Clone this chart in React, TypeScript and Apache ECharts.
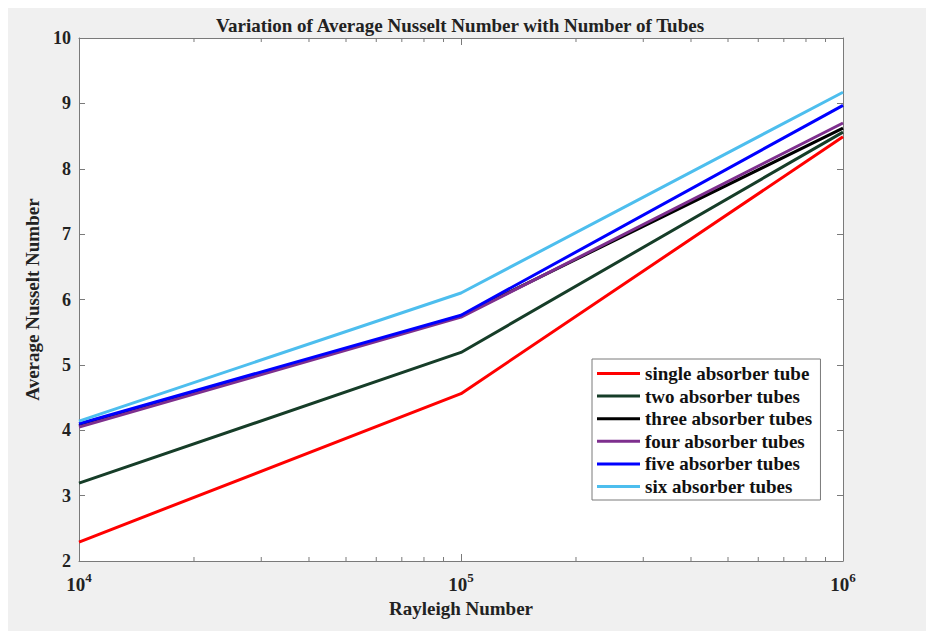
import React, { useEffect, useRef } from "react";
import * as echarts from "echarts";

const rayleigh = [1e4, 1e5, 1e6];
const seriesNames = [
  "single absorber tube",
  "two absorber tubes",
  "three absorber tubes",
  "four absorber tubes",
  "five absorber tubes",
  "six absorber tubes",
];
const singleTube = [2.29, 4.56, 8.49];
const twoTubes = [3.19, 5.19, 8.56];
const threeTubes = [4.07, 5.75, 8.62];
const fourTubes = [4.05, 5.73, 8.7];
const fiveTubes = [4.1, 5.76, 8.97];
const sixTubes = [4.14, 6.1, 9.17];
const seriesColors = ["#ff0000", "#163d28", "#000000", "#7e2f8e", "#0000ff", "#4dbeee"];
const yTicksMin = 2;
const yTicksMax = 10;
const titleText = "Variation of Average Nusselt Number with Number of Tubes";
const xTitle = "Rayleigh Number";
const yTitle = "Average Nusselt Number";

const FONT = "'Liberation Serif', 'Times New Roman', serif";
const AXIS_COLOR = "#7a7a7a";

export default function App() {
  const ref = useRef<HTMLDivElement>(null);
  useEffect(() => {
    document.body.style.margin = "0";
    document.body.style.overflow = "hidden";
    document.body.style.background = "#f0f0f0";
    document.documentElement.style.background = "#f0f0f0";
    if (!ref.current) return;
    const chart = echarts.init(ref.current, null, { renderer: "svg" });
    const allValues = [singleTube, twoTubes, threeTubes, fourTubes, fiveTubes, sixTubes];
    const minorTicks: number[] = [];
    for (let e = 4; e < 6; e++) {
      for (let m = 2; m <= 9; m++) minorTicks.push(m * Math.pow(10, e));
    }
    const lineSeries = allValues.map((vals, i) => ({
      name: seriesNames[i],
      type: "line",
      xAxisIndex: 0,
      yAxisIndex: 0,
      data: rayleigh.map((x, j) => [x, vals[j]]),
      symbol: "none",
      lineStyle: { color: seriesColors[i], width: 3 },
      itemStyle: { color: seriesColors[i] },
      z: 3 + i,
    }));
    const tickSeries = {
      type: "custom",
      xAxisIndex: 0,
      yAxisIndex: 0,
      silent: true,
      z: 2,
      data: minorTicks.map((v) => [v, yTicksMin]),
      renderItem: (params: any, api: any) => {
        const v = api.value(0);
        const pb = api.coord([v, yTicksMin]);
        const pt = api.coord([v, yTicksMax]);
        return {
          type: "group",
          children: [
            { type: "line", shape: { x1: pb[0], y1: pb[1], x2: pb[0], y2: pb[1] - 4 }, style: { stroke: AXIS_COLOR, lineWidth: 1 } },
            { type: "line", shape: { x1: pt[0], y1: pt[1], x2: pt[0], y2: pt[1] + 4 }, style: { stroke: AXIS_COLOR, lineWidth: 1 } },
          ],
        };
      },
    };
    const xLabelFmt = (val: number) => {
      const e = Math.round(Math.log10(val));
      return "{b|10}{s|" + e + "}";
    };
    chart.setOption({
      animation: false,
      backgroundColor: "#f0f0f0",
      title: {
        text: titleText,
        left: 447,
        top: 3,
        textAlign: "center",
        textStyle: { fontFamily: FONT, fontWeight: "bold", fontSize: 19, color: "#222" },
      },
      grid: { left: 71, top: 30, width: 764, height: 523, backgroundColor: "#ffffff", show: true, borderWidth: 0 },
      legend: {
        data: seriesNames,
        orient: "vertical",
        left: 584,
        top: 351,
        backgroundColor: "#ffffff",
        borderColor: AXIS_COLOR,
        borderWidth: 1,
        padding: [5, 8, 4, 5],
        icon: "rect",
        itemWidth: 43,
        itemHeight: 3,
        itemGap: 3.6,
        textStyle: { fontFamily: FONT, fontWeight: "bold", fontSize: 19, color: "#111", lineHeight: 18 },
      },
      xAxis: [
        {
          type: "log",
          logBase: 10,
          min: 1e4,
          max: 1e6,
          position: "bottom",
          name: xTitle,
          nameLocation: "middle",
          nameGap: 35,
          nameTextStyle: { fontFamily: FONT, fontWeight: "bold", fontSize: 19, color: "#222" },
          axisLine: { lineStyle: { color: AXIS_COLOR, width: 1 } },
          axisTick: { inside: true, length: 7, lineStyle: { color: AXIS_COLOR } },
          splitLine: { show: false },
          axisLabel: {
            margin: 10,
            formatter: xLabelFmt,
            rich: {
              b: { fontFamily: FONT, fontWeight: "bold", fontSize: 19, color: "#222", verticalAlign: "bottom" },
              s: { fontFamily: FONT, fontWeight: "bold", fontSize: 13, color: "#222", verticalAlign: "top", padding: [0, 0, 10, 0] },
            },
          },
        },
        {
          type: "log",
          logBase: 10,
          min: 1e4,
          max: 1e6,
          position: "top",
          axisLine: { lineStyle: { color: AXIS_COLOR, width: 1 } },
          axisTick: { inside: true, length: 7, lineStyle: { color: AXIS_COLOR } },
          axisLabel: { show: false },
          splitLine: { show: false },
        },
      ],
      yAxis: [
        {
          type: "value",
          min: yTicksMin,
          max: yTicksMax,
          interval: 1,
          position: "left",
          name: yTitle,
          nameLocation: "middle",
          nameGap: 28,
          nameTextStyle: { fontFamily: FONT, fontWeight: "bold", fontSize: 19, color: "#222" },
          axisLine: { show: true, lineStyle: { color: AXIS_COLOR, width: 1 } },
          axisTick: { show: true, inside: true, length: 6, lineStyle: { color: AXIS_COLOR } },
          splitLine: { show: false },
          axisLabel: { margin: 8, fontFamily: FONT, fontWeight: "bold", fontSize: 18, color: "#222" },
        },
        {
          type: "value",
          min: yTicksMin,
          max: yTicksMax,
          interval: 1,
          position: "right",
          axisLine: { show: true, lineStyle: { color: AXIS_COLOR, width: 1 } },
          axisTick: { show: true, inside: true, length: 6, lineStyle: { color: AXIS_COLOR } },
          splitLine: { show: false },
          axisLabel: { show: false },
        },
      ],
      series: [tickSeries, ...lineSeries],
    });
    return () => chart.dispose();
  }, []);
  return (
    <div
      style={{
        width: 926,
        height: 631,
        boxSizing: "border-box",
        background: "#f0f0f0",
        borderLeft: "8px solid #ffffff",
        borderTop: "8px solid #ffffff",
      }}
    >
      <div ref={ref} style={{ width: 918, height: 623 }} />
    </div>
  );
}
